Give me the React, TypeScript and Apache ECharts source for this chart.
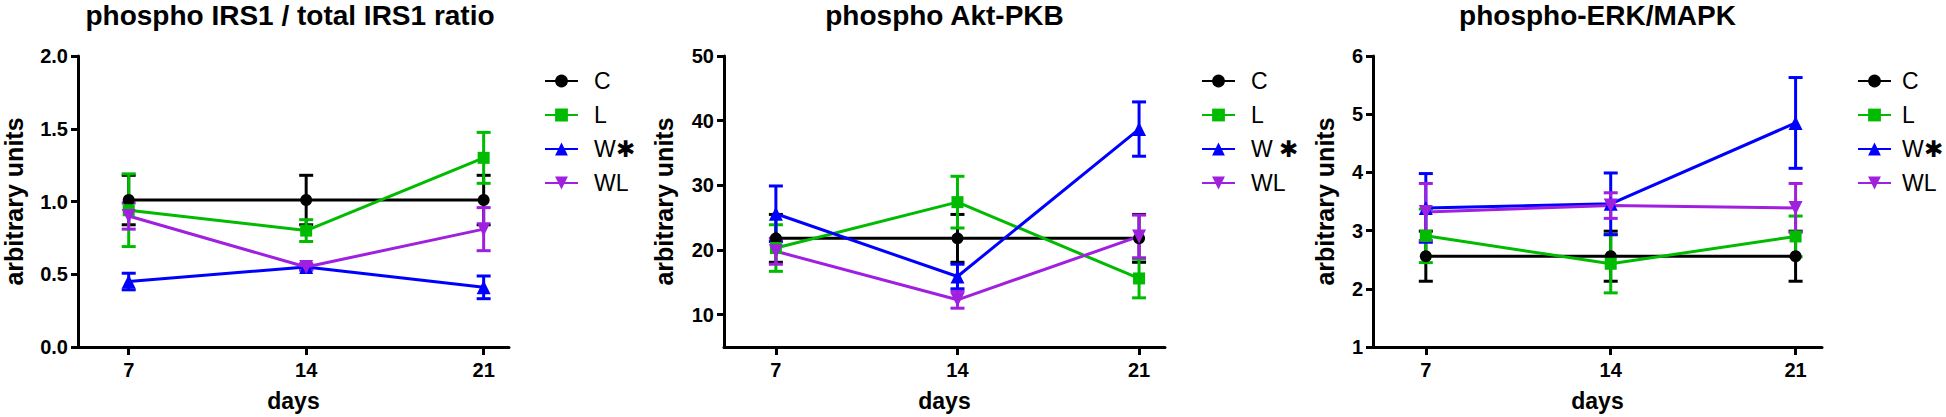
import React, { useEffect, useRef } from "react";
import * as echarts from "echarts";

// ---- data ----
const DAYS = [7, 14, 21];
const GROUP_NAMES = ["C", "L", "W", "WL"];
const COLORS = ["#000000", "#00bb00", "#0000ff", "#a020e0"];
const SYMBOLS = ["circle", "rect", "triangle", "triangle"];
const SYMBOL_ROTATE = [0, 0, 0, 180];

const PANEL_TITLES = ["phospho IRS1 / total IRS1 ratio", "phospho Akt-PKB", "phospho-ERK/MAPK"];
const LEGEND_LABELS_1 = ["C", "L", "W✱", "WL"];
const LEGEND_LABELS_2 = ["C", "L", "W ✱", "WL"];
const LEGEND_LABELS_3 = ["C", "L", "W✱", "WL"];

// panel 1: phospho IRS1 / total IRS1 ratio
const irsC = [1.01, 1.01, 1.01];
const irsCErr = [0.17, 0.17, 0.17];
const irsL = [0.94, 0.8, 1.3];
const irsLErr = [0.25, 0.075, 0.175];
const irsW = [0.45, 0.55, 0.41];
const irsWErr = [0.057, 0.02, 0.078];
const irsWL = [0.9, 0.55, 0.81];
const irsWLErr = [0.09, 0.02, 0.148];

// panel 2: phospho Akt-PKB
const aktC = [21.8, 21.8, 21.8];
const aktCErr = [3.7, 3.7, 3.7];
const aktL = [20.3, 27.4, 15.6];
const aktLErr = [3.6, 4.0, 3.0];
const aktW = [25.6, 15.9, 38.7];
const aktWErr = [4.3, 1.9, 4.2];
const aktWL = [19.8, 12.3, 22.1];
const aktWLErr = [2.0, 1.3, 3.3];

// panel 3: phospho-ERK/MAPK
const erkC = [2.56, 2.56, 2.56];
const erkCErr = [0.43, 0.43, 0.43];
const erkL = [2.91, 2.43, 2.9];
const erkLErr = [0.46, 0.5, 0.35];
const erkW = [3.39, 3.46, 4.85];
const erkWErr = [0.59, 0.53, 0.78];
const erkWL = [3.32, 3.43, 3.39];
const erkWLErr = [0.49, 0.22, 0.42];

// axis ranges / ticks
const X_MIN = 5;
const X_MAX = 22;
const Y1 = { min: 0, max: 2, ticks: [0, 0.5, 1, 1.5, 2] };
const Y2 = { min: 5, max: 50, ticks: [10, 20, 30, 40, 50] };
const Y3 = { min: 1, max: 6, ticks: [1, 2, 3, 4, 5, 6] };

const FONT = "'Liberation Sans', Arial, Helvetica, sans-serif";

const PANELS = [
  {
    title: PANEL_TITLES[0],
    means: [irsC, irsL, irsW, irsWL],
    errs: [irsCErr, irsLErr, irsWErr, irsWLErr],
    legend: LEGEND_LABELS_1,
    y: Y1,
    fmt: (v: number) => v.toFixed(1),
    grid: { left: 71, width: 438, top: 56, height: 292 },
    nameGap: 52,
    legendLeft: 539,
    legendPad: 11,
  },
  {
    title: PANEL_TITLES[1],
    means: [aktC, aktL, aktW, aktWL],
    errs: [aktCErr, aktLErr, aktWErr, aktWLErr],
    legend: LEGEND_LABELS_2,
    y: Y2,
    fmt: (v: number) => String(v),
    grid: { left: 724, width: 441, top: 56, height: 292 },
    nameGap: 48,
    legendLeft: 1196,
    legendPad: 11,
  },
  {
    title: PANEL_TITLES[2],
    means: [erkC, erkL, erkW, erkWL],
    errs: [erkCErr, erkLErr, erkWErr, erkWLErr],
    legend: LEGEND_LABELS_3,
    y: Y3,
    fmt: (v: number) => String(v),
    grid: { left: 1373, width: 449, top: 56, height: 292 },
    nameGap: 36,
    legendLeft: 1852,
    legendPad: 6,
  },
];

function buildOption() {
  const grids: any[] = [];
  const xAxes: any[] = [];
  const yAxes: any[] = [];
  const titles: any[] = [];
  const legends: any[] = [];
  const series: any[] = [];

  PANELS.forEach((p, pi) => {
    grids.push({ ...p.grid, containLabel: false });
    titles.push({
      text: p.title,
      left: p.grid.left + p.grid.width / 2,
      textAlign: "center",
      top: 1,
      padding: 0,
      textStyle: { fontFamily: FONT, fontSize: 28, fontWeight: "bold", color: "#000" },
    });
    xAxes.push({
      type: "value",
      gridIndex: pi,
      min: X_MIN,
      max: X_MAX,
      name: "days",
      nameLocation: "middle",
      nameGap: 42,
      nameTextStyle: { fontFamily: FONT, fontSize: 23, fontWeight: "bold", color: "#000" },
      axisLine: { onZero: false, lineStyle: { color: "#000", width: 3 } },
      axisTick: { show: true, length: 8, lineStyle: { color: "#000", width: 3 }, customValues: DAYS },
      axisLabel: {
        customValues: DAYS,
        margin: 13,
        fontFamily: FONT,
        fontSize: 20,
        fontWeight: "bold",
        color: "#000",
      },
      splitLine: { show: false },
    });
    yAxes.push({
      type: "value",
      gridIndex: pi,
      min: p.y.min,
      max: p.y.max,
      name: "arbitrary units",
      nameLocation: "middle",
      nameGap: p.nameGap,
      nameTextStyle: { fontFamily: FONT, fontSize: 25, fontWeight: "bold", color: "#000" },
      axisLine: { show: true, lineStyle: { color: "#000", width: 3 } },
      axisTick: { show: true, length: 7, lineStyle: { color: "#000", width: 3 }, customValues: p.y.ticks },
      axisLabel: {
        customValues: p.y.ticks,
        formatter: (v: number) => p.fmt(v),
        margin: 10,
        fontFamily: FONT,
        fontSize: 20,
        fontWeight: "bold",
        color: "#000",
      },
      splitLine: { show: false },
    });

    const legendData: string[] = [];
    GROUP_NAMES.forEach((g, gi) => {
      const name = p.legend[gi];
      legendData.push(name);
      const color = COLORS[gi];
      series.push({
        type: "custom",
        name: `${g} error ${pi}`,
        xAxisIndex: pi,
        yAxisIndex: pi,
        silent: true,
        data: DAYS.map((d, i) => [d, p.means[gi][i] - p.errs[gi][i], p.means[gi][i] + p.errs[gi][i]]),
        encode: { x: 0, y: [1, 2] },
        renderItem: (params: any, api: any) => {
          const x = api.value(0);
          const lo = api.coord([x, api.value(1)]);
          const hi = api.coord([x, api.value(2)]);
          const hw = 7;
          const style = { stroke: color, lineWidth: 3 };
          return {
            type: "group",
            children: [
              { type: "line", shape: { x1: lo[0], y1: lo[1], x2: hi[0], y2: hi[1] }, style },
              { type: "line", shape: { x1: hi[0] - hw, y1: hi[1], x2: hi[0] + hw, y2: hi[1] }, style },
              { type: "line", shape: { x1: lo[0] - hw, y1: lo[1], x2: lo[0] + hw, y2: lo[1] }, style },
            ],
          };
        },
      });
      series.push({
        type: "line",
        name,
        xAxisIndex: pi,
        yAxisIndex: pi,
        data: DAYS.map((d, i) => [d, p.means[gi][i]]),
        symbol: SYMBOLS[gi],
        symbolRotate: SYMBOL_ROTATE[gi],
        symbolSize: gi >= 2 ? 14 : 12,
        showSymbol: true,
        lineStyle: { color, width: 3 },
        itemStyle: { color, borderWidth: 0 },
        emphasis: { disabled: true },
      });
    });

    legends.push({
      data: legendData,
      orient: "vertical",
      left: p.legendLeft,
      top: 64,
      itemWidth: 33,
      itemHeight: 16,
      itemGap: 10,
      selectedMode: false,
      textStyle: {
        fontFamily: FONT,
        fontSize: 23,
        color: "#000",
        lineHeight: 24,
        padding: [0, 0, 0, p.legendPad],
      },
    });
  });

  return {
    animation: false,
    backgroundColor: "#ffffff",
    title: titles,
    grid: grids,
    xAxis: xAxes,
    yAxis: yAxes,
    legend: legends,
    series,
  };
}

export default function App() {
  const ref = useRef<HTMLDivElement>(null);
  useEffect(() => {
    if (!ref.current) return;
    const chart = echarts.init(ref.current, undefined, { renderer: "svg" });
    chart.setOption(buildOption() as any);
    return () => chart.dispose();
  }, []);
  return (
    <div
      ref={ref}
      style={{ position: "absolute", left: 0, top: 0, width: 1946, height: 417, background: "#fff" }}
    />
  );
}
